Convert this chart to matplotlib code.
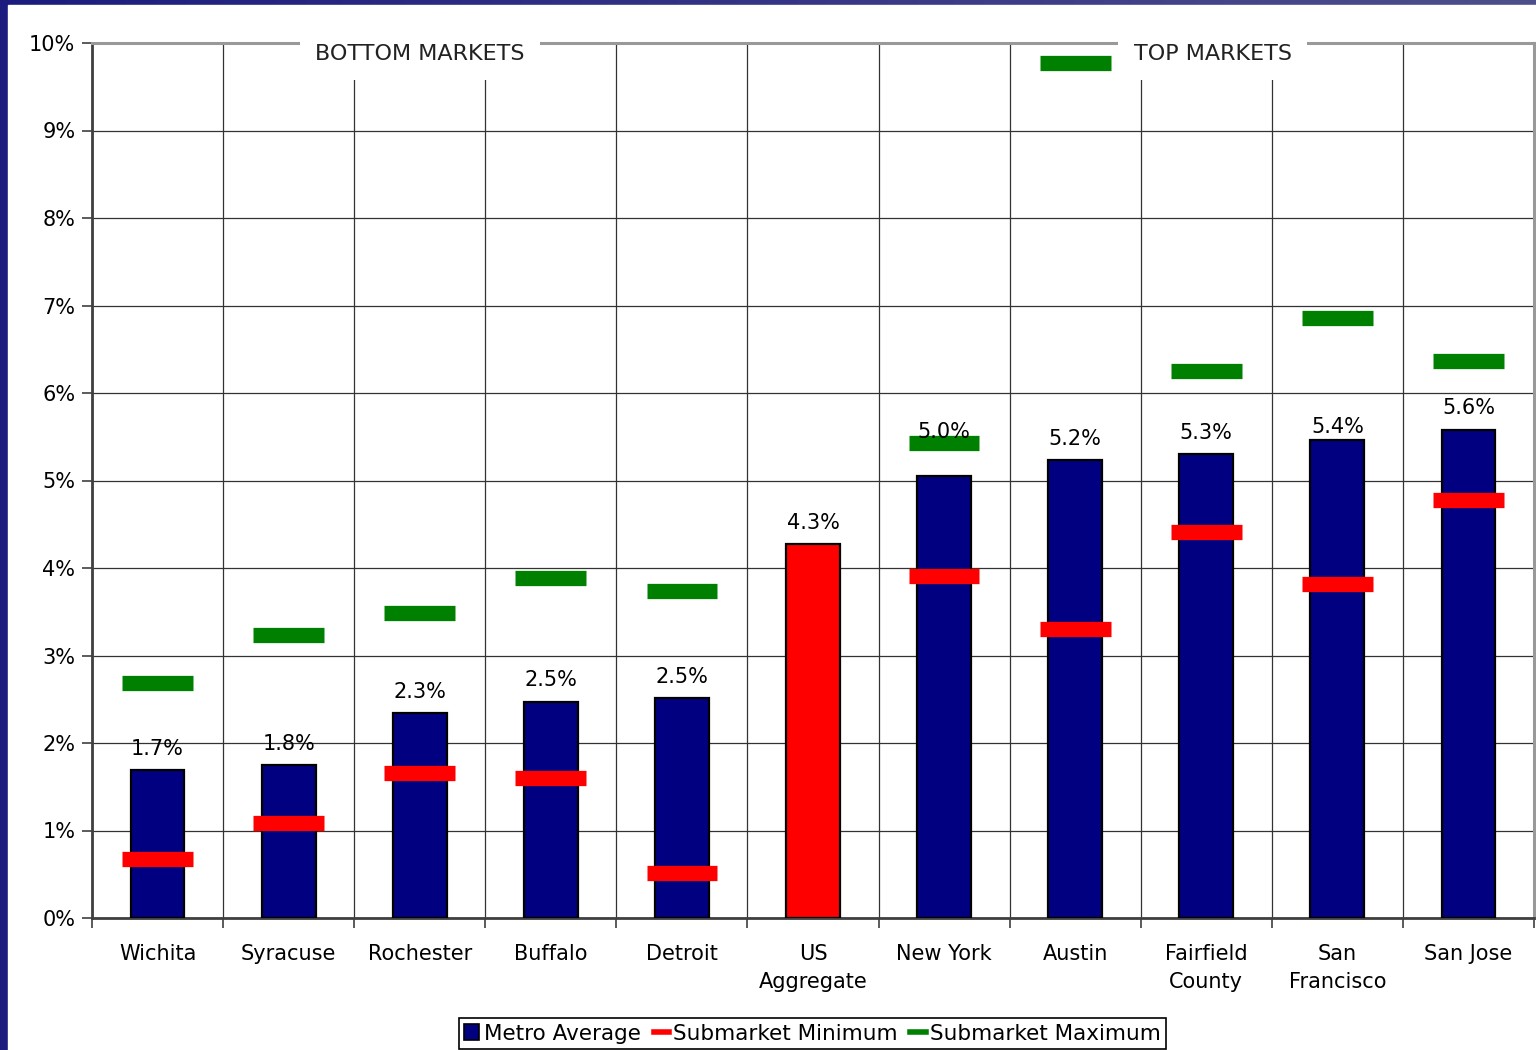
import numpy as np
import matplotlib
matplotlib.use('Agg')
import matplotlib.pyplot as plt
from matplotlib.patches import Patch, Rectangle
from matplotlib.lines import Line2D

markets = ['Wichita', 'Syracuse', 'Rochester', 'Buffalo', 'Detroit', 'US\nAggregate',
           'New York', 'Austin', 'Fairfield\nCounty', 'San\nFrancisco', 'San Jose']
metro_avg = [1.69, 1.75, 2.34, 2.47, 2.51, 4.27, 5.05, 5.23, 5.30, 5.46, 5.58]
avg_labels = ['1.7%', '1.8%', '2.3%', '2.5%', '2.5%', '4.3%', '5.0%', '5.2%', '5.3%', '5.4%', '5.6%']
sub_min = [0.67, 1.09, 1.66, 1.60, 0.51, None, 3.91, 3.30, 4.41, 3.82, 4.78]
sub_max = [2.69, 3.23, 3.49, 3.89, 3.74, None, 5.43, 9.77, 6.25, 6.86, 6.37]
y_ticks = [0, 1, 2, 3, 4, 5, 6, 7, 8, 9, 10]

navy = '#000080'
red = '#ff0000'
green = '#008000'

plt.rcParams['font.family'] = ['DejaVu Sans']

fig = plt.figure(figsize=(15.36, 10.5), dpi=100)

# dark frame on top and left
bg = fig.add_axes([0, 0, 1, 1], zorder=-10)
grad = np.linspace(0, 1, 256).reshape(1, -1)
bg.imshow(grad, aspect='auto', cmap=matplotlib.colors.LinearSegmentedColormap.from_list('f', ['#1c1c7e', '#4e4e8c']),
          extent=[0, 1, 0, 1])
bg.add_patch(Rectangle((8 / 1536, 0), 1, 1 - 5 / 1050, transform=bg.transAxes, color='white'))
bg.set_xlim(0, 1)
bg.set_ylim(0, 1)
bg.axis('off')

ax = fig.add_axes([92 / 1536, 1 - 918 / 1050, 1442 / 1536, 875 / 1050])
x = np.arange(len(markets))
colors = [red if m.startswith('US') else navy for m in markets]
ax.bar(x, metro_avg, width=0.41, color=colors, edgecolor='black', linewidth=1.6, zorder=3)

# a couple of labels sit off the usual spot in the original
nudge = {6: 0.26, 9: -0.09}
for i in range(len(markets)):
    ax.text(x[i], metro_avg[i] + 0.13 + nudge.get(i, 0), avg_labels[i], ha='center', va='bottom',
            fontsize=15, zorder=6)
    if sub_min[i] is not None:
        ax.hlines(sub_min[i], x[i] - 0.27, x[i] + 0.27, color=red, linewidth=11, zorder=5)
    if sub_max[i] is not None:
        ax.hlines(sub_max[i], x[i] - 0.27, x[i] + 0.27, color=green, linewidth=11, zorder=5)

ax.set_xlim(-0.5, len(markets) - 0.5)
ax.set_ylim(0, 10)
ax.set_yticks(y_ticks)
ax.set_yticklabels([f'{v}%' for v in y_ticks], fontsize=15)
ax.set_xticks(x)
ax.set_xticklabels(markets, fontsize=15, linespacing=1.5)
ax.set_xticks(np.arange(-0.5, len(markets)), minor=True)
ax.tick_params(axis='x', which='major', length=0, pad=19)
ax.tick_params(axis='x', which='minor', length=7, width=1.2, color='#404040')
ax.tick_params(axis='y', length=7, width=1.2, color='#404040', pad=5)
ax.grid(axis='y', color='#333333', linewidth=0.9, zorder=0)
ax.grid(axis='x', which='minor', color='#333333', linewidth=0.9, zorder=0)
ax.set_axisbelow(True)
for s in ['left', 'bottom']:
    ax.spines[s].set_color('#404040')
    ax.spines[s].set_linewidth(2)
for s in ['top', 'right']:
    ax.spines[s].set_color('#999999')
    ax.spines[s].set_linewidth(2.2)

ax.text(2, 9.87, 'BOTTOM MARKETS', ha='center', va='center', fontsize=16, color='#222222',
        bbox=dict(facecolor='white', edgecolor='none', pad=11), zorder=10, clip_on=False)
ax.text(8.05, 9.87, 'TOP MARKETS', ha='center', va='center', fontsize=16, color='#222222',
        bbox=dict(facecolor='white', edgecolor='none', pad=11), zorder=10, clip_on=False)

handles = [Patch(facecolor=navy, edgecolor='black', linewidth=1.2),
           Line2D([], [], color=red, linewidth=4),
           Line2D([], [], color=green, linewidth=4)]
leg = fig.legend(handles, ['Metro Average', 'Submarket Minimum', 'Submarket Maximum'],
                 loc='lower center', bbox_to_anchor=(0.529, 0.0), ncol=3, fontsize=15.5,
                 frameon=True, fancybox=False, edgecolor='black', framealpha=1,
                 handlelength=0.7, handleheight=0.8, handletextpad=0.2, columnspacing=0.6,
                 borderpad=0.25, borderaxespad=0.05)
leg.get_frame().set_linewidth(1.2)

fig.savefig('out.png', dpi=100)
